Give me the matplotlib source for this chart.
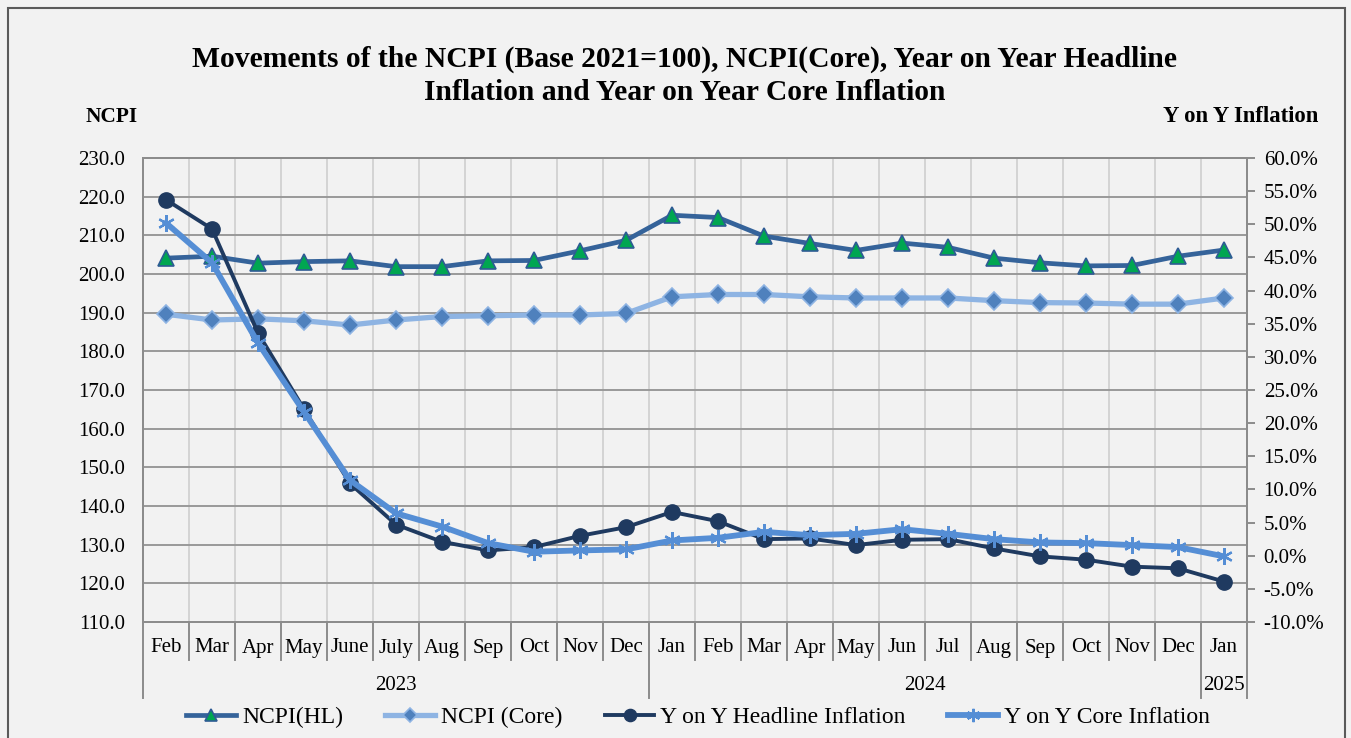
import matplotlib
matplotlib.use("Agg")
import matplotlib.pyplot as plt
import numpy as np
from matplotlib.patches import Rectangle
from matplotlib.ticker import FixedLocator, FuncFormatter

months = ["Feb", "Mar", "Apr", "May", "June", "July", "Aug", "Sep", "Oct", "Nov", "Dec",
          "Jan", "Feb", "Mar", "Apr", "May", "Jun", "Jul", "Aug", "Sep", "Oct", "Nov", "Dec", "Jan"]
years = ["2023", "2024", "2025"]
year_spans = [(0, 10), (11, 22), (23, 23)]

ncpi_hl = [204.1, 204.6, 202.8, 203.2, 203.4, 201.9, 201.9, 203.4, 203.5, 206.0, 208.7, 215.2,
           214.6, 209.8, 207.9, 206.1, 208.0, 206.9, 204.1, 202.9, 202.1, 202.2, 204.6, 206.2]
ncpi_core = [189.6, 188.1, 188.4, 187.9, 186.8, 188.1, 189.0, 189.2, 189.4, 189.4, 189.8, 194.1,
             194.7, 194.7, 194.1, 193.8, 193.8, 193.8, 193.1, 192.6, 192.5, 192.2, 192.2, 193.8]
yoy_hl = [53.7, 49.3, 33.6, 22.1, 10.9, 4.7, 2.1, 0.8, 1.3, 3.0, 4.3, 6.6,
          5.2, 2.5, 2.6, 1.6, 2.4, 2.5, 1.1, -0.1, -0.6, -1.65, -1.9, -3.9]
yoy_core = [50.2, 44.2, 32.1, 21.7, 11.4, 6.4, 4.4, 1.9, 0.6, 0.8, 0.95, 2.3,
            2.7, 3.6, 3.1, 3.3, 4.0, 3.3, 2.5, 2.0, 1.9, 1.6, 1.3, -0.1]

W, H = 1351, 738
FONT = "Liberation Serif"
plt.rcParams["font.family"] = [FONT, "DejaVu Serif"]
fig = plt.figure(figsize=(W / 100, H / 100), dpi=100)
fig.patch.set_facecolor("#f2f2f2")

# outer border
fig.add_artist(Rectangle((8 / W, -0.05), (1345 - 8) / W, 1.05 - 8 / H, transform=fig.transFigure,
                         fill=False, edgecolor="#5a5a5a", lw=1.5))

L, R, T, B = 143, 1247, 158, 622
ax = fig.add_axes([L / W, 1 - B / H, (R - L) / W, (B - T) / H])
ax.set_facecolor("#f2f2f2")
x = np.arange(len(months))

ax.set_xlim(-0.5, len(months) - 0.5)
ax.set_ylim(110, 230)
ax.yaxis.set_major_locator(FixedLocator(np.arange(110, 231, 10)))
ax.yaxis.set_major_formatter(FuncFormatter(lambda v, p: f"{v:.1f}"))
ax.set_xticks([])
ax.xaxis.set_minor_locator(FixedLocator(np.arange(0.5, len(months) - 1, 1)))
ax.grid(axis="y", which="major", color="#999999", lw=1.4)
ax.grid(axis="x", which="minor", color="#d4d4d4", lw=1.4)
ax.tick_params(axis="x", which="both", length=0)
ax.tick_params(axis="y", length=0, pad=13, labelsize=15)
for s in ax.spines.values():
    s.set_color("#8c8c8c")
    s.set_linewidth(1.4)
ax.set_axisbelow(True)

l1, = ax.plot(x, ncpi_hl, color="#35639a", lw=3.4, marker="^", ms=11,
              mfc="#00a651", mec="#2e5b94", mew=1.2, label="NCPI(HL)", zorder=3)
l2, = ax.plot(x, ncpi_core, color="#8eb4e3", lw=3.8, marker="D", ms=9,
              mfc="#4f81bd", mec="#8eb4e3", mew=1.2, label="NCPI (Core)", zorder=3)

ax2 = ax.twinx()
ax2.set_ylim(-10, 60)
ax2.yaxis.set_major_locator(FixedLocator(np.arange(-10, 61, 5)))
ax2.yaxis.set_major_formatter(FuncFormatter(lambda v, p: f"{v:.1f}%"))
ax2.tick_params(axis="y", length=6, width=1.4, color="#8c8c8c", pad=6, labelsize=15)
for s in ax2.spines.values():
    s.set_color("#8c8c8c")
    s.set_linewidth(1.4)

l3, = ax2.plot(x, yoy_hl, color="#1f3a60", lw=2.8, marker="o", ms=11,
               mfc="#1f3a60", mec="#1f3a60", label="Y on Y Headline Inflation", zorder=3)
l4, = ax2.plot(x, yoy_core, color="#558ed5", lw=4.2, marker=(6, 2, 0), ms=12,
               mec="#558ed5", mew=1.6, label="Y on Y Core Inflation", zorder=4)

# category axis
trans = ax.get_xaxis_transform()
ph = B - T


def yfrac(py):
    return (B - py) / ph


for i, m in enumerate(months):
    ax.text(i, yfrac(648), m, transform=trans, ha="center", va="center", fontsize=15)
year_bounds = [-0.5, 10.5, 22.5, 23.5]
for b in np.arange(-0.5, len(months) + 0.5, 1):
    bottom = yfrac(698) if b in year_bounds else yfrac(660)
    ax.plot([b, b], [0, bottom], transform=trans, color="#8c8c8c", lw=1.4, clip_on=False)
for (a, bnd), yr in zip(year_spans, years):
    ax.text((a + bnd) / 2, yfrac(686), yr, transform=trans, ha="center", va="center", fontsize=15)

fig.text(685 / W, 1 - 76 / H,
         "Movements of the NCPI (Base 2021=100), NCPI(Core), Year on Year Headline\nInflation and Year on Year Core Inflation",
         ha="center", va="center", fontsize=21.3, fontweight="bold", linespacing=1.27)
fig.text(112 / W, 1 - 117 / H, "NCPI", ha="center", va="center", fontsize=15.3, fontweight="bold")
fig.text(1318 / W, 1 - 117 / H, "Y on Y Inflation", ha="right", va="center", fontsize=16.3, fontweight="bold")

fig.legend(handles=[l1, l2, l3, l4], loc="center", bbox_to_anchor=(698 / W, 1 - 717 / H), ncol=4,
           frameon=False, fontsize=17, handlelength=2.1, columnspacing=1.8, handletextpad=0.25,
           markerscale=0.8)

fig.savefig("out.png", dpi=100, facecolor=fig.get_facecolor())
